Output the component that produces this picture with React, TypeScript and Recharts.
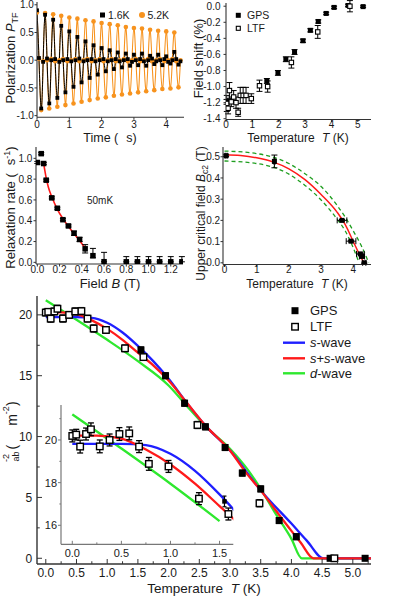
import React from 'react';
import { ComposedChart, XAxis, YAxis, Line, Scatter, ErrorBar } from 'recharts';

const FONT = '"Liberation Sans", Arial, Helvetica, sans-serif';
const INK = '#1a1a1a';
const FRAME = '#333333';
const ORANGE = '#f7931e';
const BLUE = '#1f1fff';
const RED = '#ff1a1a';
const GREEN = '#2ee82e';
const DASH_GREEN = '#1f9e1f';

// (a) TF polarization, time in us
const tTF = [
  0, 0.06, 0.13, 0.19, 0.25, 0.31, 0.38, 0.44, 0.5, 0.56, 0.63, 0.69, 0.75, 0.81, 0.88, 0.94,
  1.0, 1.06, 1.13, 1.19, 1.25, 1.31, 1.38, 1.44, 1.5, 1.56, 1.63, 1.69, 1.75, 1.81, 1.88, 1.94,
  2.0, 2.06, 2.13, 2.19, 2.25, 2.31, 2.38, 2.44, 2.5, 2.56, 2.63, 2.69, 2.75, 2.81, 2.88, 2.94,
  3.0, 3.06, 3.13, 3.19, 3.25, 3.31, 3.38, 3.44, 3.5, 3.56, 3.63, 3.69, 3.75, 3.81, 3.88, 3.94,
  4.0, 4.06, 4.13, 4.19, 4.25, 4.31, 4.38, 4.44,
];
const pol16K = [
  0.9, 0.04, -0.87, -0.03, 0.82, 0.03, -0.78, 0.0, 0.73, 0.02, -0.68, -0.03, 0.62, 0.0, -0.58, 0.02,
  0.52, -0.02, -0.48, 0.0, 0.42, 0.03, -0.4, -0.02, 0.34, 0.0, -0.32, 0.02, 0.27, -0.02, -0.26, 0.0,
  0.22, 0.02, -0.2, -0.02, 0.18, 0.0, -0.16, 0.02, 0.14, -0.02, -0.13, 0.0, 0.12, 0.02, -0.1, -0.03,
  0.1, 0.0, -0.09, 0.02, 0.12, -0.02, -0.1, 0.0, 0.08, 0.03, -0.07, -0.02, 0.1, 0.0, -0.09, 0.02,
  0.07, -0.03, -0.06, 0.0, 0.15, 0.02, -0.08, -0.02,
];
const pol52K = [
  0.86, 0.03, -0.9, -0.02, 0.85, 0.0, -0.87, 0.02, 0.83, -0.02, -0.84, 0.0, 0.8, 0.02, -0.81, -0.02,
  0.77, 0.0, -0.78, 0.02, 0.75, -0.02, -0.75, 0.0, 0.72, 0.02, -0.72, -0.02, 0.7, 0.0, -0.69, 0.02,
  0.67, -0.02, -0.67, 0.0, 0.65, 0.02, -0.64, -0.02, 0.63, 0.0, -0.62, 0.02, 0.6, -0.02, -0.6, 0.0,
  0.58, 0.02, -0.58, -0.02, 0.57, 0.0, -0.56, 0.02, 0.55, -0.02, -0.54, 0.0, 0.53, 0.02, -0.52, -0.02,
  0.52, 0.0, -0.51, 0.02, 0.5, -0.02, -0.49, 0.0,
];

// (b) field shift in %
const shiftGpsT = [0.02, 1.55, 1.97, 2.27, 2.6, 2.92, 3.2, 3.5, 3.8, 4.1, 4.63, 5.2];
const shiftGps = [-1.19, -0.93, -0.83, -0.66, -0.57, -0.43, -0.3, -0.19, -0.09, -0.015, 0.01, -0.005];
const shiftGpsErr = [0.03, 0.03, 0.03, 0.03, 0.03, 0.02, 0.02, 0.02, 0.015, 0.015, 0.015, 0.01];
const shiftLtfT = [0.03, 0.08, 0.13, 0.2, 0.29, 0.38, 0.46, 0.54, 0.65, 0.76, 0.96, 1.27, 1.58, 2.48, 3.48, 4.7];
const shiftLtf = [-1.21, -1.27, -1.05, -1.19, -1.13, -1.2, -1.32, -1.11, -1.11, -1.11, -1.15, -0.99, -1.0, -0.7, -0.32, 0.0];
const shiftLtfErr = [0.1, 0.07, 0.1, 0.06, 0.08, 0.07, 0.05, 0.1, 0.1, 0.1, 0.06, 0.07, 0.07, 0.07, 0.08, 0.07];

// (c) relaxation rate at 50mK
const fieldB = [0.0, 0.035, 0.057, 0.08, 0.13, 0.18, 0.23, 0.28, 0.33, 0.38, 0.43, 0.5, 0.6, 0.8, 0.9, 1.0, 1.1, 1.2, 1.3];
const relaxRate = [0.96, 1.045, 0.95, 0.79, 0.62, 0.52, 0.41, 0.35, 0.28, 0.22, 0.13, 0.064, 0.006, 0.005, 0.005, 0.005, 0.005, 0.005, 0.005];
const rateErrLo = [0.01, 0.01, 0.01, 0.01, 0.01, 0.01, 0.01, 0.01, 0.02, 0.02, 0.04, 0.02, 0.0, 0.0, 0.0, 0.0, 0.0, 0.0, 0.0];
const rateErrHi = [0.01, 0.01, 0.01, 0.01, 0.01, 0.01, 0.01, 0.01, 0.02, 0.02, 0.04, 0.07, 0.09, 0.05, 0.05, 0.05, 0.05, 0.05, 0.05];
const fitB = [0.057, 0.08, 0.1, 0.13, 0.18, 0.23, 0.28, 0.33, 0.38, 0.43];
const fitRate = [0.95, 0.81, 0.72, 0.63, 0.51, 0.42, 0.345, 0.275, 0.21, 0.135];

// (d) upper critical field
const bc2T = [0.05, 1.55, 3.65, 3.93, 4.22, 4.27, 4.34];
const bc2 = [0.505, 0.478, 0.2, 0.102, 0.042, 0.03, 0.0];
const bc2Err = [0.004, 0.03, 0.004, 0.004, 0.004, 0.004, 0.003];
const bc2TErr = [0.03, 0.03, 0.15, 0.15, 0.12, 0.08, 0.05];
const bc2FitT = [0, 0.5, 1.0, 1.5, 2.0, 2.5, 3.0, 3.5, 3.75, 4.0, 4.15, 4.33];
const bc2Fit = [0.51, 0.506, 0.495, 0.476, 0.443, 0.392, 0.322, 0.238, 0.18, 0.1, 0.052, 0.0];
const bc2UpT = [0, 1.0, 2.0, 2.5, 3.0, 3.5, 3.75, 4.0, 4.25, 4.48];
const bc2Up = [0.527, 0.515, 0.468, 0.42, 0.36, 0.27, 0.215, 0.15, 0.08, 0.0];
const bc2LoT = [0, 1.0, 2.0, 2.5, 3.0, 3.5, 3.75, 4.0, 4.18];
const bc2Lo = [0.48, 0.468, 0.418, 0.365, 0.296, 0.205, 0.15, 0.07, 0.0];

// (e) superfluid density lambda^-2 (um^-2)
const gpsT = [1.55, 1.95, 2.26, 2.6, 2.92, 3.2, 3.5, 3.8, 4.08, 4.63, 5.2];
const gpsLam = [17.12, 15.0, 12.74, 10.8, 9.1, 7.0, 5.7, 3.1, 1.77, 0.0, 0.0];
const gpsErr = [0.25, 0.25, 0.25, 0.25, 0.25, 0.25, 0.25, 0.25, 0.25, 0.2, 0.2];
const ltfT = [0.0, 0.04, 0.08, 0.14, 0.19, 0.28, 0.38, 0.48, 0.58, 0.68, 0.78, 0.98, 1.29, 1.59, 2.47, 3.48, 4.7];
const ltfLam = [20.19, 20.25, 19.69, 20.28, 20.5, 19.7, 20.0, 20.28, 20.31, 19.69, 18.88, 18.76, 17.25, 16.53, 10.95, 4.52, 0.0];
const ltfErr = [0.28, 0.25, 0.3, 0.28, 0.3, 0.3, 0.28, 0.3, 0.3, 0.28, 0.3, 0.28, 0.28, 0.28, 0.3, 0.3, 0.2];
const sWaveT = [0, 0.25, 0.5, 0.75, 1.0, 1.25, 1.5, 1.75, 2.0, 2.3, 2.6, 3.0, 3.5, 4.0, 4.25, 4.52, 5.3];
const sWave = [19.82, 19.82, 19.82, 19.76, 19.35, 18.55, 17.45, 16.2, 14.75, 12.75, 10.9, 8.85, 5.58, 2.85, 1.45, 0, 0];
const ssWaveT = [0, 0.25, 0.5, 0.75, 1.0, 1.25, 1.5, 1.75, 2.0, 2.3, 2.6, 3.0, 3.25, 3.5, 3.75, 4.0, 4.15, 4.36, 5.3];
const ssWave = [20.2, 20.2, 20.06, 19.55, 18.85, 17.95, 16.9, 15.85, 14.6, 12.75, 10.9, 8.85, 7.1, 5.58, 3.9, 2.25, 1.3, 0, 0];
const dWaveT = [0, 0.5, 1.0, 1.5, 2.0, 2.3, 2.6, 3.0, 3.3, 3.5, 3.75, 4.0, 4.17, 5.3];
const dWave = [21.2, 19.6, 17.95, 16.2, 14.2, 12.5, 10.85, 9.0, 7.2, 5.7, 3.6, 1.6, 0, 0];

const pts = (xs: number[], ys: number[], e?: any[], ex?: number[]) =>
  xs.map((x, i) => ({ x, y: ys[i], e: e ? e[i] : 0, ex: ex ? ex[i] : 0 }));

const isIn = (arr: number[], v: number) => arr.some((m) => Math.abs(m - v) < 1e-6);

type Side = 'bottom' | 'top' | 'left' | 'right';
interface TickOpts {
  side: Side;
  major: number[];
  len: number; // positive = into the plot
  minorLen?: number;
  fmt?: (v: number) => string;
  fs?: number;
  gap?: number;
  color: string;
}

const makeTick = (o: TickOpts) => (props: any) => {
  const { x, y, payload } = props;
  const v = payload.value as number;
  const major = isIn(o.major, v);
  const L = major ? o.len : o.minorLen ?? o.len * 0.55;
  const dx = o.side === 'left' ? L : o.side === 'right' ? -L : 0;
  const dy = o.side === 'bottom' ? -L : o.side === 'top' ? L : 0;
  const fs = o.fs ?? 10;
  const gap = o.gap ?? 3;
  let label: React.ReactNode = null;
  if (major && o.fmt) {
    label =
      o.side === 'bottom' ? (
        <text x={x} y={y + gap} textAnchor="middle" fontSize={fs} fill={INK} fontFamily={FONT}>
          {o.fmt(v)}
        </text>
      ) : (
        <text x={x - gap} y={y + fs * 0.36} textAnchor="end" fontSize={fs} fill={INK} fontFamily={FONT}>
          {o.fmt(v)}
        </text>
      );
  }
  return (
    <g>
      <line x1={x} y1={y} x2={x + dx} y2={y + dy} stroke={o.color} strokeWidth={1} />
      {label}
    </g>
  );
};

interface PanelProps {
  box: { l: number; t: number; r: number; b: number };
  xd: [number, number];
  yd: [number, number];
  xt: number[];
  yt: number[];
  xMaj: number[];
  yMaj: number[];
  xFmt: (v: number) => string;
  yFmt: (v: number) => string;
  fs: number;
  xGap: number;
  yGap: number;
  xLen: number;
  yLen: number;
  frame: 'ticks' | 'line' | 'none';
  color?: string;
  axisWidth?: number;
  children: React.ReactNode;
}

const Panel = (p: PanelProps) => {
  const PL = 40, PR = 6, PT = 6, PB = 30;
  const w = p.box.r - p.box.l;
  const h = p.box.b - p.box.t;
  const color = p.color ?? FRAME;
  const line = { stroke: color, strokeWidth: p.axisWidth ?? 1.1 };
  const common = {
    type: 'number' as const,
    allowDataOverflow: true,
    interval: 0 as const,
    tickSize: 0,
    tickMargin: 0,
    tickLine: false,
  };
  return (
    <div style={{ position: 'absolute', left: p.box.l - PL, top: p.box.t - PT }}>
      <ComposedChart width={w + PL + PR} height={h + PT + PB} margin={{ top: PT, right: PR, bottom: 0, left: 0 }}>
        <XAxis
          xAxisId="b"
          dataKey="x"
          domain={p.xd}
          ticks={p.xt}
          height={PB}
          axisLine={line}
          tick={makeTick({ side: 'bottom', major: p.xMaj, len: p.xLen, fmt: p.xFmt, fs: p.fs, gap: p.xGap, color })}
          {...common}
        />
        {p.frame !== 'none' && (
          <XAxis
            xAxisId="t"
            orientation="top"
            domain={p.xd}
            ticks={p.xt}
            height={0}
            axisLine={line}
            tick={p.frame === 'ticks' ? makeTick({ side: 'top', major: p.xMaj, len: p.xLen, color }) : false}
            {...common}
          />
        )}
        <YAxis
          yAxisId="l"
          domain={p.yd}
          ticks={p.yt}
          width={PL}
          axisLine={line}
          tick={makeTick({ side: 'left', major: p.yMaj, len: p.yLen, fmt: p.yFmt, fs: p.fs, gap: p.yGap, color })}
          {...common}
        />
        {p.frame !== 'none' && (
          <YAxis
            yAxisId="r"
            orientation="right"
            domain={p.yd}
            ticks={p.yt}
            width={0}
            axisLine={line}
            tick={p.frame === 'ticks' ? makeTick({ side: 'right', major: p.yMaj, len: p.yLen, color }) : false}
            {...common}
          />
        )}
        {p.children}
      </ComposedChart>
    </div>
  );
};

const ax = { xAxisId: 'b', yAxisId: 'l' };

const filledSq = (s: number, c = '#000') => (q: any) => (
  <rect x={q.cx - s / 2} y={q.cy - s / 2} width={s} height={s} fill={c} />
);
const openSq = (s: number, sw = 1.3) => (q: any) => (
  <rect x={q.cx - s / 2} y={q.cy - s / 2} width={s} height={s} fill="#fff" stroke="#000" strokeWidth={sw} />
);
const roundDot = (r: number, c: string) => (q: any) => <circle cx={q.cx} cy={q.cy} r={r} fill={c} />;

const f0 = (v: number) => v.toFixed(0);
const f1 = (v: number) => v.toFixed(1);

const Overlay = () => (
  <svg
    width={416}
    height={597}
    style={{ position: 'absolute', left: 0, top: 0, pointerEvents: 'none' }}
    fontFamily={FONT}
    fill={INK}
  >
    {/* panel a */}
    <text transform="translate(15,58) rotate(-90)" textAnchor="middle" fontSize={13}>
      Polarization <tspan fontStyle="italic">P</tspan>
      <tspan fontSize={9} dy={3}>TF</tspan>
    </text>
    <text x={110} y={142} textAnchor="middle" fontSize={12.5}>
      Time (<tspan dx={8}>s)</tspan>
    </text>
    <rect x={100} y={12.5} width={5} height={5} fill="#000" />
    <text x={108} y={19} fontSize={10.5}>1.6K</text>
    <circle cx={142} cy={15} r={3} fill={ORANGE} />
    <text x={147.5} y={19} fontSize={10.5}>5.2K</text>

    {/* panel b */}
    <text transform="translate(203,58.5) rotate(-90)" textAnchor="middle" fontSize={13}>
      Field shift (%)
    </text>
    <text x={298} y={141.5} textAnchor="middle" fontSize={12}>
      Temperature<tspan dx={4} fontStyle="italic"> T</tspan> (K)
    </text>
    <rect x={235.8} y={12.8} width={5} height={5} fill="#000" />
    <text x={247} y={19.3} fontSize={10.5}>GPS</text>
    <rect x={236.3} y={26.3} width={4} height={4} fill="#fff" stroke="#000" strokeWidth={1.1} />
    <text x={247} y={32.3} fontSize={10.5}>LTF</text>

    {/* panel c */}
    <text transform="translate(15,207.5) rotate(-90)" textAnchor="middle" fontSize={13}>
      Relaxation rate (<tspan dx={8}>s</tspan>
      <tspan fontSize={9} dy={-5}>-1</tspan>
      <tspan dy={5}>)</tspan>
    </text>
    <text x={110} y={287.5} textAnchor="middle" fontSize={13}>
      Field <tspan fontStyle="italic">B</tspan> (T)
    </text>
    <text x={100} y={204} textAnchor="middle" fontSize={10}>50mK</text>

    {/* panel d */}
    <text transform="translate(205,213.5) rotate(-90)" textAnchor="middle" fontSize={12}>
      Upper critical field <tspan fontStyle="italic">B</tspan>
      <tspan fontSize={8.5} dy={3}>c2</tspan>
      <tspan dy={-3}> (T)</tspan>
    </text>
    <text x={297} y={287.5} textAnchor="middle" fontSize={12}>
      Temperature<tspan dx={4} fontStyle="italic"> T</tspan> (K)
    </text>

    {/* panel e */}
    <text transform="translate(17,462) rotate(-90)" fontSize={14}>
      <tspan fontSize={9} dy={-8.5}>-2</tspan>
      <tspan fontSize={9} dx={-7.5} dy={10.5}>ab</tspan>
      <tspan dx={2} dy={-2}>(</tspan>
      <tspan dx={19}>m</tspan>
      <tspan fontSize={9} dy={-8.5}>-2</tspan>
      <tspan dy={8.5}>)</tspan>
    </text>
    <text x={204} y={593} textAnchor="middle" fontSize={13.5}>
      Temperature<tspan dx={4} fontStyle="italic"> T</tspan> (K)
    </text>
    <rect x={291.5} y={307.2} width={7} height={7} fill="#000" />
    <text x={310} y={315.3} fontSize={13}>GPS</text>
    <rect x={291.8} y={323.5} width={6.5} height={6.5} fill="#fff" stroke="#000" strokeWidth={1.4} />
    <text x={310} y={331.3} fontSize={13}>LTF</text>
    <line x1={283} x2={305} y1={342.7} y2={342.7} stroke={BLUE} strokeWidth={2.4} />
    <text x={310} y={347.3} fontSize={13}>
      <tspan fontStyle="italic">s</tspan>-wave
    </text>
    <line x1={283} x2={305} y1={358.3} y2={358.3} stroke={RED} strokeWidth={2.4} />
    <text x={310} y={363} fontSize={13}>
      <tspan fontStyle="italic">s</tspan>+<tspan fontStyle="italic">s</tspan>-wave
    </text>
    <line x1={283} x2={305} y1={373.3} y2={373.3} stroke={GREEN} strokeWidth={2.4} />
    <text x={310} y={378} fontSize={13}>
      <tspan fontStyle="italic">d</tspan>-wave
    </text>
  </svg>
);

export default function App() {
  const polBlack = pts(tTF, pol16K);
  const polOrange = pts(tTF, pol52K);
  const gpsB = pts(shiftGpsT, shiftGps, shiftGpsErr);
  const ltfB = pts(shiftLtfT, shiftLtf, shiftLtfErr);
  const rateC = pts(fieldB, relaxRate, rateErrLo.map((lo, i) => [lo, rateErrHi[i]]));
  const fitC = pts(fitB, fitRate);
  const bc2D = pts(bc2T, bc2, bc2Err, bc2TErr);
  const gps = pts(gpsT, gpsLam, gpsErr);
  const ltf = pts(ltfT, ltfLam, ltfErr);
  const sW = pts(sWaveT, sWave);
  const ssW = pts(ssWaveT, ssWave);
  const dW = pts(dWaveT, dWave);
  const inInset = (d: { x: number }) => d.x <= 1.75;

  return (
    <div style={{ position: 'absolute', left: 0, top: 0, width: 416, height: 597, background: '#fff', fontFamily: FONT }}>
      {/* (a) polarization */}
      <Panel
        box={{ l: 36.5, t: 2, r: 183.5, b: 117.3 }}
        xd={[0, 4.55]}
        yd={[-1.03, 1.05]}
        xt={[0, 1, 2, 3, 4]}
        yt={[-1, -0.5, 0, 0.5, 1]}
        xMaj={[0, 1, 2, 3, 4]}
        yMaj={[-1, -0.5, 0, 0.5, 1]}
        xFmt={f0}
        yFmt={f1}
        fs={10}
        xGap={10.3}
        yGap={3.2}
        xLen={-2.5}
        yLen={-2.5}
        frame="line"
      >
        <Line {...ax} data={polOrange} dataKey="y" type="natural" stroke={ORANGE} strokeWidth={1.1} dot={false} activeDot={false} isAnimationActive={false} />
        <Scatter {...ax} data={polOrange} dataKey="y" shape={roundDot(2.3, ORANGE)} isAnimationActive={false} />
        <Line {...ax} data={polBlack} dataKey="y" type="natural" stroke="#000" strokeWidth={1} dot={false} activeDot={false} isAnimationActive={false} />
        <Scatter {...ax} data={polBlack} dataKey="y" shape={filledSq(3.8)} isAnimationActive={false} />
      </Panel>

      {/* (b) field shift */}
      <Panel
        box={{ l: 225.5, t: 2.5, r: 370.5, b: 119 }}
        xd={[0, 5.5]}
        yd={[-1.41, 0.04]}
        xt={[0, 1, 2, 3, 4, 5]}
        yt={[-1.4, -1.2, -1.0, -0.8, -0.6, -0.4, -0.2, 0]}
        xMaj={[0, 1, 2, 3, 4, 5]}
        yMaj={[-1.4, -1.2, -1.0, -0.8, -0.6, -0.4, -0.2, 0]}
        xFmt={f0}
        yFmt={f1}
        fs={10}
        xGap={8.7}
        yGap={5.5}
        xLen={-2.5}
        yLen={-2.5}
        frame="line"
      >
        <Scatter {...ax} data={gpsB} dataKey="y" shape={filledSq(5)} isAnimationActive={false}>
          <ErrorBar dataKey="e" direction="y" width={3} stroke="#000" strokeWidth={1} />
        </Scatter>
        <Scatter {...ax} data={ltfB} dataKey="y" shape={openSq(4.4, 1.1)} isAnimationActive={false}>
          <ErrorBar dataKey="e" direction="y" width={3} stroke="#000" strokeWidth={1} />
        </Scatter>
      </Panel>

      {/* (c) relaxation rate */}
      <Panel
        box={{ l: 36, t: 147, r: 183, b: 264 }}
        xd={[-0.012, 1.31]}
        yd={[-0.016, 1.109]}
        xt={[0, 0.2, 0.4, 0.6, 0.8, 1.0, 1.2]}
        yt={[0, 0.2, 0.4, 0.6, 0.8, 1.0]}
        xMaj={[0, 0.2, 0.4, 0.6, 0.8, 1.0, 1.2]}
        yMaj={[0, 0.2, 0.4, 0.6, 0.8, 1.0]}
        xFmt={f1}
        yFmt={f1}
        fs={10}
        xGap={9}
        yGap={3.7}
        xLen={-2.5}
        yLen={-2.5}
        frame="line"
      >
        <Line {...ax} data={fitC} dataKey="y" type="monotone" stroke={RED} strokeWidth={1.6} dot={false} activeDot={false} isAnimationActive={false} />
        <Scatter {...ax} data={rateC} dataKey="y" shape={filledSq(5.5)} isAnimationActive={false}>
          <ErrorBar dataKey="e" direction="y" width={3} stroke="#000" strokeWidth={1} />
        </Scatter>
      </Panel>

      {/* (d) upper critical field */}
      <Panel
        box={{ l: 222.5, t: 146.5, r: 370.5, b: 264 }}
        xd={[-0.047, 4.55]}
        yd={[-0.008, 0.546]}
        xt={[0, 1, 2, 3, 4]}
        yt={[0, 0.1, 0.2, 0.3, 0.4, 0.5]}
        xMaj={[0, 1, 2, 3, 4]}
        yMaj={[0, 0.1, 0.2, 0.3, 0.4, 0.5]}
        xFmt={f0}
        yFmt={f1}
        fs={10}
        xGap={8}
        yGap={2.8}
        xLen={-2.5}
        yLen={-2.5}
        frame="line"
      >
        <Line {...ax} data={pts(bc2UpT, bc2Up)} dataKey="y" type="monotone" stroke={DASH_GREEN} strokeWidth={1.3} strokeDasharray="4 3" dot={false} activeDot={false} isAnimationActive={false} />
        <Line {...ax} data={pts(bc2LoT, bc2Lo)} dataKey="y" type="monotone" stroke={DASH_GREEN} strokeWidth={1.3} strokeDasharray="4 3" dot={false} activeDot={false} isAnimationActive={false} />
        <Line {...ax} data={pts(bc2FitT, bc2Fit)} dataKey="y" type="monotone" stroke={RED} strokeWidth={1.5} dot={false} activeDot={false} isAnimationActive={false} />
        <Scatter {...ax} data={bc2D} dataKey="y" shape={filledSq(5)} isAnimationActive={false}>
          <ErrorBar dataKey="e" direction="y" width={3} stroke="#000" strokeWidth={1} />
          <ErrorBar dataKey="ex" direction="x" width={3} stroke="#000" strokeWidth={1} />
        </Scatter>
      </Panel>

      {/* (e) superfluid density */}
      <Panel
        box={{ l: 36.7, t: 296, r: 370.7, b: 564 }}
        xd={[-0.143, 5.296]}
        yd={[-0.47, 21.55]}
        xt={[0, 0.25, 0.5, 0.75, 1.0, 1.25, 1.5, 1.75, 2.0, 2.25, 2.5, 2.75, 3.0, 3.25, 3.5, 3.75, 4.0, 4.25, 4.5, 4.75, 5.0, 5.25]}
        yt={[0, 2.5, 5, 7.5, 10, 12.5, 15, 17.5, 20]}
        xMaj={[0, 0.5, 1.0, 1.5, 2.0, 2.5, 3.0, 3.5, 4.0, 4.5, 5.0]}
        yMaj={[0, 5, 10, 15, 20]}
        xFmt={f1}
        yFmt={f0}
        fs={12}
        xGap={13}
        yGap={4.7}
        xLen={5}
        yLen={5}
        frame="ticks"
        axisWidth={1.4}
      >
        <Line {...ax} data={dW} dataKey="y" type="monotone" stroke={GREEN} strokeWidth={2.3} dot={false} activeDot={false} isAnimationActive={false} />
        <Line {...ax} data={sW} dataKey="y" type="monotone" stroke={BLUE} strokeWidth={2.3} dot={false} activeDot={false} isAnimationActive={false} />
        <Line {...ax} data={ssW} dataKey="y" type="monotone" stroke={RED} strokeWidth={2.3} dot={false} activeDot={false} isAnimationActive={false} />
        <Scatter {...ax} data={gps} dataKey="y" shape={filledSq(7)} isAnimationActive={false}>
          <ErrorBar dataKey="e" direction="y" width={3} stroke="#000" strokeWidth={1} />
        </Scatter>
        <Scatter {...ax} data={ltf} dataKey="y" shape={openSq(6.5, 1.4)} isAnimationActive={false}>
          <ErrorBar dataKey="e" direction="y" width={3} stroke="#000" strokeWidth={1} />
        </Scatter>
      </Panel>

      {/* (e) inset, low temperature */}
      <Panel
        box={{ l: 61, t: 405, r: 233.3, b: 544.3 }}
        xd={[-0.115, 1.64]}
        yd={[15.11, 21.64]}
        xt={[0, 0.25, 0.5, 0.75, 1.0, 1.25, 1.5]}
        yt={[16, 17, 18, 19, 20, 21]}
        xMaj={[0, 0.5, 1.0, 1.5]}
        yMaj={[16, 18, 20]}
        xFmt={f1}
        yFmt={f0}
        fs={11}
        xGap={13.2}
        yGap={4}
        xLen={3.5}
        yLen={-3}
        frame="none"
        color="#777"
        axisWidth={1.2}
      >
        <Line {...ax} data={dW.filter(inInset)} dataKey="y" type="monotone" stroke={GREEN} strokeWidth={2.3} dot={false} activeDot={false} isAnimationActive={false} />
        <Line {...ax} data={sW.filter(inInset)} dataKey="y" type="monotone" stroke={BLUE} strokeWidth={2.3} dot={false} activeDot={false} isAnimationActive={false} />
        <Line {...ax} data={ssW.filter(inInset)} dataKey="y" type="monotone" stroke={RED} strokeWidth={2.3} dot={false} activeDot={false} isAnimationActive={false} />
        <Scatter {...ax} data={gps.filter((d) => d.x < 1.64)} dataKey="y" shape={filledSq(4.5)} isAnimationActive={false}>
          <ErrorBar dataKey="e" direction="y" width={2} stroke="#000" strokeWidth={1.2} />
        </Scatter>
        <Scatter {...ax} data={ltf.filter((d) => d.x < 1.64)} dataKey="y" shape={openSq(6.5, 1.4)} isAnimationActive={false}>
          <ErrorBar dataKey="e" direction="y" width={3} stroke="#000" strokeWidth={1.3} />
        </Scatter>
      </Panel>

      <Overlay />
    </div>
  );
}
